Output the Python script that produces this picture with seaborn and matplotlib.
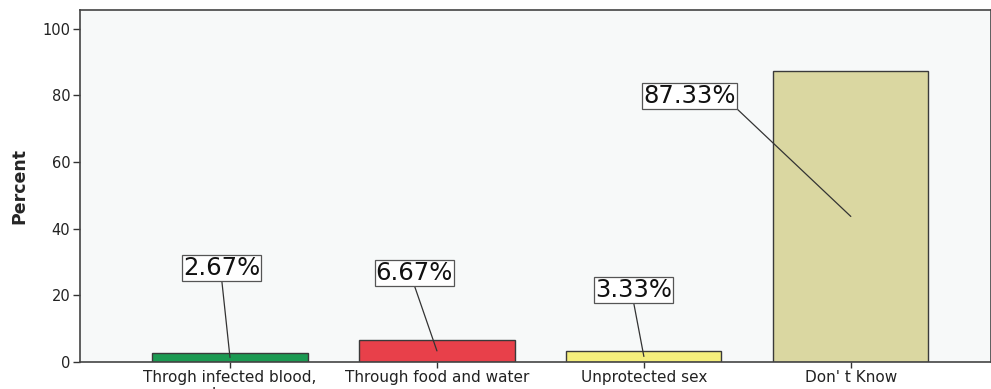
import pandas as pd
import seaborn as sns
import numpy as np
import matplotlib.pyplot as plt

categories = ["Throgh infected blood,\nsharps", "Through food and water",
              "Unprotected sex", "Don' t Know"]
percent = [2.67, 6.67, 3.33, 87.33]
labels = ["2.67%", "6.67%", "3.33%", "87.33%"]
colors = ["#1B9A52", "#E8404A", "#F4EE7C", "#DAD7A1"]
# where the label boxes sit (data coords) and where the leader line leaves the box
label_pos = [(-0.04, 28.2), (0.89, 26.7), (1.95, 21.6), (2.22, 79.9)]
line_start = [(0.5, 0), (0.5, 0), (0.5, 0), (1, 0)]

sns.set_style("ticks")
plt.rcParams['font.family'] = ['DejaVu Sans']

df = pd.DataFrame({"cat": categories, "pct": percent})

fig = plt.figure(figsize=(9.91, 3.89), dpi=100)
ax = fig.add_axes([0.0807, 0.0694, 0.919, 0.905])
ax.set_facecolor("#F7F9F9")

sns.barplot(data=df, x="cat", y="pct", hue="cat", palette=colors, legend=False,
            width=0.75, edgecolor="#3a3a3a", linewidth=1.0, saturation=1, ax=ax)

for i, (v, lab) in enumerate(zip(percent, labels)):
    ax.annotate(lab, xy=(i, v / 2), xytext=label_pos[i], ha="center", va="center",
                fontsize=17.5, color="#111111",
                bbox=dict(boxstyle="square,pad=0.04", fc="white", ec="#555555", lw=0.9),
                arrowprops=dict(arrowstyle="-", color="#333333", lw=0.9,
                                relpos=line_start[i], shrinkA=0, shrinkB=0))

ax.set_xlim(-0.725, 3.676)
ax.set_ylim(0, 105.6)
ax.set_yticks([0, 20, 40, 60, 80, 100])
ax.tick_params(axis="y", labelsize=10.5, length=5, width=1, color="#333333",
               labelcolor="#222222", pad=2)
ax.tick_params(axis="x", labelsize=11, length=4, width=1, color="#333333",
               labelcolor="#222222", pad=1.5)
ax.set_xlabel("")
ax.set_ylabel("Percent", fontsize=12.5, fontweight="bold", labelpad=10)
for s in ax.spines.values():
    s.set_color("#444444")
    s.set_linewidth(1.2)

fig.savefig("out.png", dpi=100)
